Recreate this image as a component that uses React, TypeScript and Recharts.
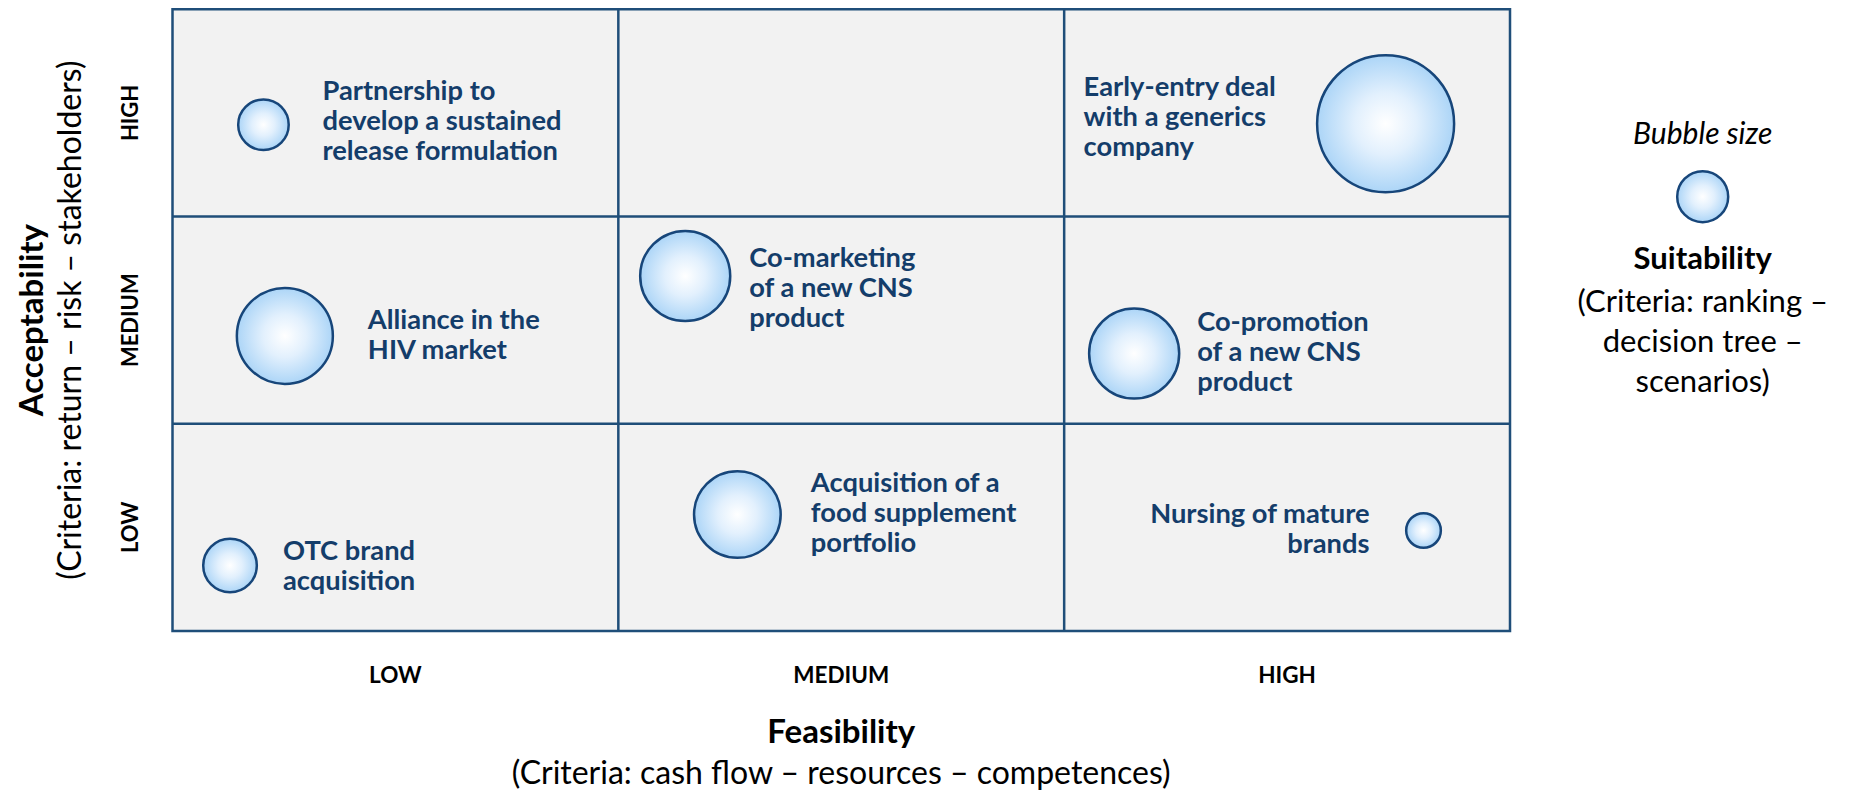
import { ScatterChart, Scatter, XAxis, YAxis, ZAxis, ReferenceArea, ReferenceLine } from 'recharts';

// axis levels (both axes use the same three bands)
const levels = ['LOW', 'MEDIUM', 'HIGH'];
const levelTicks = [0.5, 1.5, 2.5];
const gridLines = [1, 2];

// strategic options
const strategies = [
  'Partnership', 'Early-entry deal', 'Co-marketing', 'Alliance HIV',
  'Co-promotion', 'Acquisition food supplement', 'OTC brand', 'Nursing mature brands',
];
const labelLines = [
  ['Partnership to', 'develop a sustained', 'release formulation'],
  ['Early-entry deal', 'with a generics', 'company'],
  ['Co-marketing', 'of a new CNS', 'product'],
  ['Alliance in the', 'HIV market'],
  ['Co-promotion', 'of a new CNS', 'product'],
  ['Acquisition of a', 'food supplement', 'portfolio'],
  ['OTC brand', 'acquisition'],
  ['Nursing of mature', 'brands'],
];
const feasibility = [0.204, 2.721, 1.15, 0.252, 2.157, 1.267, 0.129, 2.806];
const acceptability = [2.443, 2.448, 1.713, 1.424, 1.339, 0.562, 0.316, 0.485];
const suitability = [1.36, 10, 4.32, 4.91, 4.32, 4.0, 1.53, 0.64];

// where each label sits relative to its bubble (px)
const labelPlacement = [
  { dx: 59, dy: 5, anchor: 'start' },
  { dx: -302, dy: 2.5, anchor: 'start' },
  { dx: 64, dy: 20.7, anchor: 'start' },
  { dx: 83, dy: 7.8, anchor: 'start' },
  { dx: 63, dy: 7.5, anchor: 'start' },
  { dx: 73.5, dy: 7.2, anchor: 'start' },
  { dx: 53, dy: 9.5, anchor: 'start' },
  { dx: -54, dy: 7.2, anchor: 'end' },
];

const data = strategies.map((name, i) => ({
  name,
  x: feasibility[i],
  y: acceptability[i],
  z: suitability[i],
  lines: labelLines[i],
  idx: i,
}));

const FONT = "Lato, 'Noto Sans', sans-serif";
const NAVY = '#143d6a';
const BORDER = '#1f4e79';
const MAX_R = 68.5;
const LINE_H = 30;

function Bubble(props: any) {
  const { cx, cy, width, payload } = props;
  const r = width / 2;
  const place = labelPlacement[payload.idx];
  const n = payload.lines.length;
  return (
    <g>
      <circle cx={cx} cy={cy} r={r} fill="url(#bubbleFill)" stroke="#17467a" strokeWidth={2.5} />
      <text textAnchor={place.anchor} fontFamily={FONT} fontWeight={700} fontSize={27.3} fill={NAVY}>
        {payload.lines.map((l: string, i: number) => (
          <tspan key={i} x={cx + place.dx} y={cy + place.dy + (i - (n - 1) / 2) * LINE_H}>{l}</tspan>
        ))}
      </text>
    </g>
  );
}

function XTick(p: any) {
  return (
    <text x={p.x} y={p.y + 44} textAnchor="middle" fontFamily={FONT} fontWeight={700} fontSize={22.5} fill="#000">
      {levels[Math.floor(p.payload.value)]}
    </text>
  );
}

function YTick(p: any) {
  const bx = p.x - 26.5;
  return (
    <text x={bx} y={p.y} transform={`rotate(-90 ${bx} ${p.y})`} textAnchor="middle" fontFamily={FONT} fontWeight={700} fontSize={22} fill="#000">
      {levels[Math.floor(p.payload.value)]}
    </text>
  );
}

function XTitle(lp: any) {
  const vb = lp.viewBox;
  const cx = vb.x + vb.width / 2;
  return (
    <g fontFamily={FONT} fill="#000" textAnchor="middle">
      <text x={cx} y={vb.y + 112} fontSize={33} fontWeight={700}>Feasibility</text>
      <text x={cx} y={vb.y + 153} fontSize={32}>(Criteria: cash flow – resources – competences)</text>
    </g>
  );
}

function YTitle(lp: any) {
  const vb = lp.viewBox;
  const cy = vb.y + vb.height / 2;
  return (
    <g fontFamily={FONT} fill="#000" textAnchor="middle">
      <text x={43} y={cy} transform={`rotate(-90 43 ${cy})`} fontSize={33} fontWeight={700}>Acceptability</text>
      <text x={81} y={cy} transform={`rotate(-90 81 ${cy})`} fontSize={32}>(Criteria: return – risk – stakeholders)</text>
    </g>
  );
}

export default function App() {
  return (
    <div style={{ position: 'relative', width: 1854, height: 790, background: '#fff' }}>
      <style>{'body{margin:0}'}</style>
      <ScatterChart width={1854} height={790} margin={{ top: 9.3, right: 344, left: 0, bottom: 0 }}>
        <XAxis
          type="number"
          dataKey="x"
          domain={[0, 3]}
          ticks={levelTicks}
          axisLine={false}
          tickLine={false}
          height={159}
          tick={<XTick />}
          label={{ content: (lp: any) => <XTitle {...lp} /> }}
        />
        <YAxis
          type="number"
          dataKey="y"
          domain={[0, 3]}
          ticks={levelTicks}
          axisLine={false}
          tickLine={false}
          width={172.5}
          tick={<YTick />}
          label={{ content: (lp: any) => <YTitle {...lp} /> }}
        />
        <ZAxis type="number" dataKey="z" domain={[0, 10]} range={[0, Math.PI * MAX_R * MAX_R]} />
        <ReferenceArea x1={0} x2={3} y1={0} y2={3} fill="#f2f2f2" fillOpacity={1} stroke={BORDER} strokeWidth={2.5} />
        {gridLines.map(v => (
          <ReferenceLine key={'x' + v} x={v} stroke={BORDER} strokeWidth={2.5} />
        ))}
        {gridLines.map(v => (
          <ReferenceLine key={'y' + v} y={v} stroke={BORDER} strokeWidth={2.5} />
        ))}
        <Scatter data={data} shape={<Bubble />} isAnimationActive={false} />
      </ScatterChart>
      <svg width={1854} height={790} style={{ position: 'absolute', left: 0, top: 0, pointerEvents: 'none' }}>
        <defs>
          <radialGradient id="bubbleFill" cx="50%" cy="50%" r="50%">
            <stop offset="0%" stopColor="#ffffff" />
            <stop offset="45%" stopColor="#e2f0fd" />
            <stop offset="100%" stopColor="#acd5f7" />
          </radialGradient>
        </defs>
        <g fontFamily={FONT} fill="#000" textAnchor="middle">
          <text x={1702.7} y={144} fontSize={30} fontStyle="italic">Bubble size</text>
          <circle cx={1702.7} cy={196.7} r={25.5} fill="url(#bubbleFill)" stroke="#17467a" strokeWidth={2.5} />
          <text x={1702.7} y={268.5} fontSize={31} fontWeight={700}>Suitability</text>
          <text x={1702.7} y={312} fontSize={31}>(Criteria: ranking –</text>
          <text x={1702.7} y={352} fontSize={31}>decision tree –</text>
          <text x={1702.7} y={392} fontSize={31}>scenarios)</text>
        </g>
      </svg>
    </div>
  );
}
